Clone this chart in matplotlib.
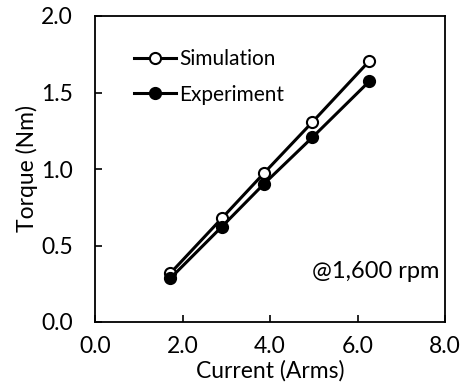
import matplotlib
matplotlib.use('Agg')
import matplotlib.pyplot as plt

# 数据 (读自参考图)
current = [1.72, 2.90, 3.86, 4.97, 6.27]
torque_sim = [0.318, 0.678, 0.972, 1.307, 1.706]
torque_exp = [0.285, 0.623, 0.902, 1.207, 1.573]
x_ticks = [0.0, 2.0, 4.0, 6.0, 8.0]
y_ticks = [0.0, 0.5, 1.0, 1.5, 2.0]

plt.rcParams['font.family'] = ['Lato', 'DejaVu Sans']

fig = plt.figure(figsize=(4.62, 3.92), dpi=100)
ax = fig.add_axes([95 / 462, 1 - 322 / 392, 350 / 462, 306 / 392])

ax.plot(current, torque_sim, '-o', color='black', lw=2.2, ms=8,
        mfc='white', mec='black', mew=1.5, label='Simulation')
ax.plot(current, torque_exp, '-o', color='black', lw=2.2, ms=8,
        mfc='black', mec='black', mew=1.5, label='Experiment')

ax.set_xlim(0, 8)
ax.set_ylim(0, 2)
ax.set_xticks(x_ticks)
ax.set_yticks(y_ticks)
ax.set_xticklabels([f'{v:.1f}' for v in x_ticks])
ax.set_yticklabels([f'{v:.1f}' for v in y_ticks])
ax.tick_params(direction='in', length=5, width=1.2, labelsize=16.5)
ax.tick_params(axis='y', pad=16)
ax.tick_params(axis='x', pad=10)
for s in ax.spines.values():
    s.set_linewidth(1.3)

ax.set_xlabel('Current (Arms)', fontsize=16.5, labelpad=2)
ax.set_ylabel('Torque (Nm)', fontsize=16.5, labelpad=2)

ax.text(0.985, 0.165, '@1,600 rpm', transform=ax.transAxes,
        ha='right', va='center', fontsize=17)

ax.legend(loc='upper left', frameon=False, fontsize=15,
          bbox_to_anchor=(0.07, 0.94), handlelength=2.0, handletextpad=0.15,
          labelspacing=0.75, borderaxespad=0.3)

fig.savefig('out.png', dpi=100)
